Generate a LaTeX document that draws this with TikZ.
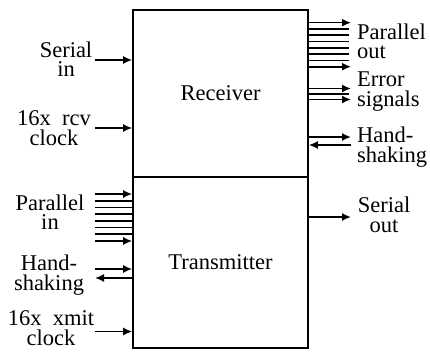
\documentclass[tikz,border=0pt]{standalone}
\usepackage{fontspec}
\setmainfont{Liberation Serif}
\usetikzlibrary{arrows.meta}
\begin{document}
\begin{tikzpicture}[x=1pt,y=1pt,
  blk/.style={draw,line width=1.6pt,minimum width=175pt,inner sep=0pt},
  lbl/.style={font=\fontsize{22.5}{19.5}\selectfont,align=center,inner sep=0pt},
  lblL/.style={font=\fontsize{22.5}{19.5}\selectfont,align=left,inner sep=0pt,anchor=west},
  sig/.style={line width=1.6pt},
  sigA/.style={line width=1.6pt,-{Latex[length=9pt,width=8pt]}}]
\useasboundingbox (0,0) rectangle (430,351);
\node[blk,minimum height=167pt] (rcv) at (220.5,257.5) {\fontsize{22.5}{19.5}\selectfont Receiver};
\node[blk,minimum height=171pt] (xmt) at (220.5,88.5) {\fontsize{22.5}{19.5}\selectfont Transmitter};
% left side labels
\node[lbl] (sin) at (66,292) {Serial\\in};
\node[lbl] (rclk) at (54,223) {16x\enspace rcv\\clock};
\node[lbl] (pin) at (50,139) {Parallel\\in};
\node[lbl] (hsl) at (49,76) {Hand-\\shaking};
\node[lbl] (xclk) at (51,23) {16x\enspace xmit\\clock};
% right side labels
\node[lblL] (pout) at (357,309.5) {Parallel\\out};
\node[lblL] (err) at (357,259.5) {Error\\signals};
\node[lblL] (hsr) at (357,204) {Hand-\\shaking};
\node[lbl] (sout) at (384,136) {Serial\\out};
% left inputs
\coordinate (L) at (95,0);
\draw[sigA] (L |- 0,291) -- (rcv.west |- 0,291);
\draw[sigA] (L |- 0,223) -- (rcv.west |- 0,223);
\foreach \i in {0,...,7}{
  \pgfmathsetmacro{\yy}{157-\i*6.714}
  \ifnum\i=0 \draw[sigA] (L |- 0,\yy) -- (xmt.west |- 0,\yy);
  \else\ifnum\i=7 \draw[sigA] (L |- 0,\yy) -- (xmt.west |- 0,\yy);
  \else \draw[sig] (L |- 0,\yy) -- (xmt.west |- 0,\yy);\fi\fi}
\draw[sigA] (L |- 0,82) -- (xmt.west |- 0,82);
\draw[sigA] (xmt.west |- 0,73) -- (L |- 0,73);
\draw[sigA] (L |- 0,19.5) -- (xmt.west |- 0,19.5);
% right outputs
\coordinate (R) at (351,0);
\foreach \i in {0,...,7}{
  \pgfmathsetmacro{\yy}{328.3-\i*6.286}
  \ifnum\i=0 \draw[sigA] (rcv.east |- 0,\yy) -- (R |- 0,\yy);
  \else\ifnum\i=7 \draw[sigA] (rcv.east |- 0,\yy) -- (R |- 0,\yy);
  \else \draw[sig] (rcv.east |- 0,\yy) -- (349,\yy);\fi\fi}
\draw[sigA] (rcv.east |- 0,262.5) -- (R |- 0,262.5);
\draw[sig] (rcv.east |- 0,257) -- (349,257);
\draw[sigA] (rcv.east |- 0,251.5) -- (R |- 0,251.5);
\draw[sigA] (rcv.east |- 0,214) -- (R |- 0,214);
\draw[sigA] (R |- 0,206) -- (rcv.east |- 0,206);
\draw[sigA] (xmt.east |- 0,134) -- (R |- 0,134);
\end{tikzpicture}
\end{document}
